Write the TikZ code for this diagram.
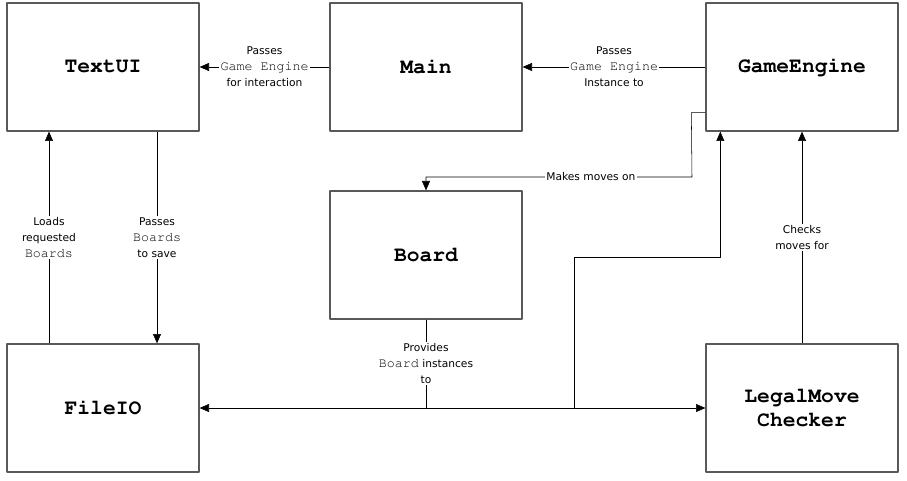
\documentclass[tikz,border=0pt]{standalone}
\usepackage{fontspec}
\setmainfont{DejaVu Sans}
\usetikzlibrary{arrows.meta}
\newcommand{\crr}{\fontencoding{T1}\fontfamily{pcr}}
\tikzset{
	box/.style={draw=black!65,line width=1pt,minimum width=144pt,minimum height=96pt,font=\crr\fontsize{16}{18}\bfseries\selectfont,align=center},
	lbl/.style={fill=white,inner sep=1pt,align=center,font=\fontsize{8}{12}\selectfont}
}
\newcommand{\cls}[1]{{\crr\fontsize{10}{12}\selectfont #1}}
\begin{document}
\begin{tikzpicture}[x=0.75pt,y=-0.75pt,>={Triangle[length=7pt,width=6pt]},line join=round]
	\useasboundingbox (0,0) rectangle (907,481);
	\node[box] (tui) at (103,67) {TextUI};
	\node[box] (main) at (426,67) {Main};
	\node[box] (ge) at (802,67) {GameEngine};
	\node[box] (bd) at (426,255) {Board};
	\node[box] (fio) at (103,408) {FileIO};
	\node[box] (lmc) at (802,408) {LegalMove\\Checker};
	\draw[->] (main.west)--(tui.east) node[lbl,midway]{Passes\\\cls{Game Engine}\\for interaction};
	\draw[->] (ge.west)--(main.east) node[lbl,midway]{Passes\\\cls{Game Engine}\\Instance to};
	\draw[->] ([xshift=40.5pt]tui.south)--([xshift=40.5pt]fio.north) node[lbl,midway]{Passes\\\cls{Boards}\\to save};
	\draw[->] ([xshift=-40.5pt]fio.north)--([xshift=-40.5pt]tui.south) node[lbl,midway]{Loads\\requested\\\cls{Boards}};
	\draw[->] (lmc.north)--(ge.south) node[lbl,midway]{Checks\\moves for};
	\draw[->] ([yshift=14.25pt]ge.south west)--++(-14,0)--(692,177)--(bd.north |- 0,177) node[lbl,pos=0.38]{Makes moves on}--(bd.north);
	\draw (bd.south)--(bd.south |- 0,408) coordinate (jn) node[lbl,midway]{Provides\\\cls{Board}\ instances\\to};
	\draw[->] (jn)--(fio.east);
	\draw[->] (jn)--(lmc.west);
	\coordinate (gein) at ([xshift=11.25pt]ge.south west);
	\draw[->] (574,408)|-(gein |- 0,257)--(gein);
\end{tikzpicture}
\end{document}
